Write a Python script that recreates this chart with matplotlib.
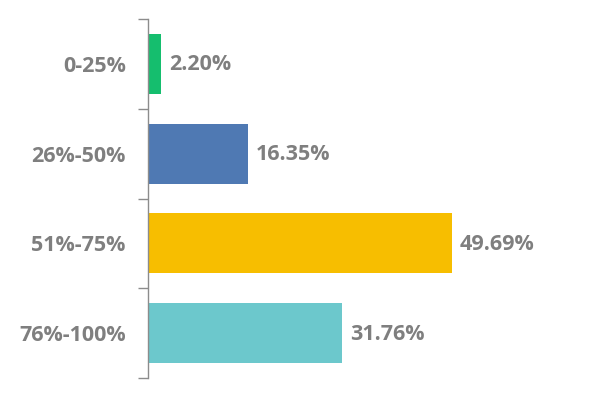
import matplotlib
matplotlib.use("Agg")
import matplotlib.pyplot as plt

categories = ["0-25%", "26%-50%", "51%-75%", "76%-100%"]
values = [2.20, 16.35, 49.69, 31.76]
colors = ["#15BE6E", "#4F79B3", "#F7BE00", "#6CC8CC"]

W, H = 601, 395
fig = plt.figure(figsize=(W/100, H/100), dpi=100)
left, right, top, bottom = 148, 590, 19, 378
ax = fig.add_axes([left/W, 1-bottom/H, (right-left)/W, (bottom-top)/H])

ypos = list(range(len(categories)))
ax.barh(ypos, values, height=0.667, color=colors)
ax.set_ylim(len(categories)-0.5, -0.5)
ax.set_xlim(0, (right-left)/6.12)

for y, v in zip(ypos, values):
    ax.text(v + 1.2, y + 0.01, f"{v:.2f}%", va="center", ha="left",
            fontsize=15.5, fontweight="bold", color="#7F7F7F", family="Open Sans")

ax.set_yticks([i - 0.5 for i in range(len(categories)+1)], minor=False)
ax.set_yticklabels([])
ax.set_yticks(ypos, minor=True)
ax.set_yticklabels(categories, minor=True, fontsize=15.5, fontweight="bold",
                   color="#7F7F7F", family="Open Sans")
ax.tick_params(axis="y", which="major", length=7, color="#8C8C8C", width=1)
ax.tick_params(axis="y", which="minor", length=0, pad=16)
ax.set_xticks([])
for s in ["top", "right", "bottom"]:
    ax.spines[s].set_visible(False)
ax.spines["left"].set_color("#8C8C8C")
ax.spines["left"].set_linewidth(1)

fig.savefig("out.png", dpi=100)
